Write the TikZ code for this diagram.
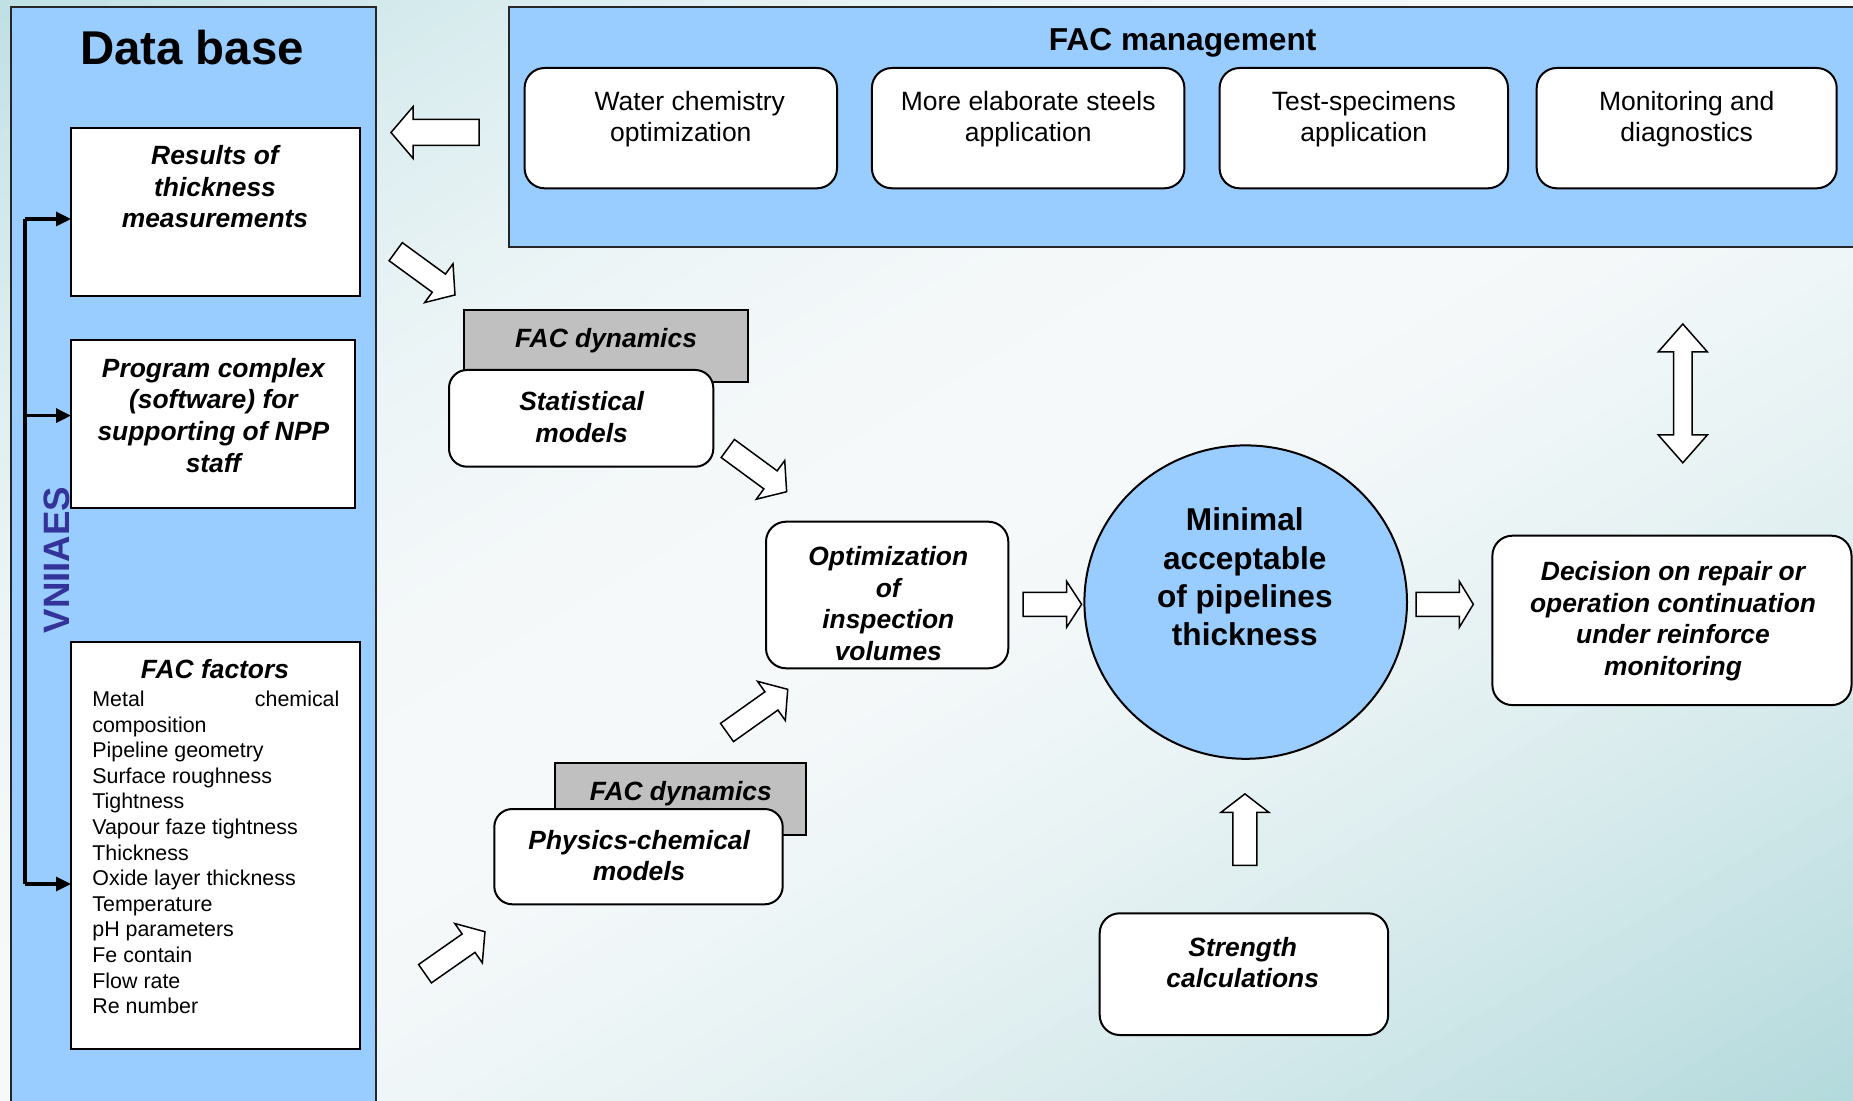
\documentclass[tikz,border=0pt]{standalone}
\usepackage{fontspec}
\setmainfont{Liberation Sans}
\usetikzlibrary{shapes.geometric,arrows.meta}
\definecolor{panelblue}{HTML}{99CCFF}
\definecolor{bgteal}{RGB}{190,224,228}
\definecolor{bgtealb}{RGB}{178,217,220}
\definecolor{bgwhite}{RGB}{246,249,250}
\definecolor{vnblue}{HTML}{333399}
\definecolor{boxgray}{HTML}{C0C0C0}
\newcommand{\blkarrow}[6]{%
  \draw[blk, shift={#1}, rotate=#2] (0,-#4) -- ({#3-#6},-#4) -- ({#3-#6},-#5) -- (#3,0)
    -- ({#3-#6},#5) -- ({#3-#6},#4) -- (0,#4) -- cycle;}
\begin{document}
\begin{tikzpicture}[x=0.5pt,y=-0.5pt,
  panel/.style={draw=black!85, line width=1pt, fill=panelblue, inner sep=0pt, outer sep=0pt, anchor=north west},
  sqbox/.style={draw=black, line width=1pt, fill=white, inner sep=0pt, outer sep=0pt, anchor=north west},
  rbox/.style={sqbox, rounded corners=9pt},
  graybox/.style={draw=black, line width=1pt, fill=boxgray, inner sep=0pt, outer sep=0pt, anchor=north west},
  blk/.style={draw=black, line width=0.75pt, fill=white, line join=miter},
  bi/.style={font=\fontsize{13.2pt}{15.85pt}\selectfont\bfseries\itshape, align=center, inner sep=0pt, anchor=north},
  reg/.style={font=\fontsize{13.25pt}{15.5pt}\selectfont, align=center, inner sep=0pt, anchor=north},
  busline/.style={line width=1.65pt},
  bus/.style={line width=1.65pt, -{Triangle[length=7.5pt,width=7pt]}}
]
\useasboundingbox (0,0) rectangle (1853,1101);
% background gradient
\begin{scope}
  \clip (0,0) rectangle (1853,1101);
  \foreach \k in {0,...,49}{
    \pgfmathsetmacro\ca{\k/50}
    \pgfmathsetmacro\cb{(\k+1)/50+0.004}
    \pgfmathsetmacro\t{(\k+0.5)/50}
    \pgfmathsetmacro\p{100*(1-\t)^2}
    \fill[bgteal!\p!bgwhite] ({\ca*1853},0) -- ({\cb*1853},0) -- (0,{\cb*1101}) -- (0,{\ca*1101}) -- cycle;
  }
  \foreach \k in {50,...,99}{
    \pgfmathsetmacro\ca{\k/50}
    \pgfmathsetmacro\cb{(\k+1)/50+0.004}
    \pgfmathsetmacro\t{(\k+0.5)/50}
    \pgfmathsetmacro\p{100*(\t-1)^1.5}
    \fill[bgtealb!\p!bgwhite] ({\ca*1853},0) -- ({\cb*1853},0) -- (0,{\cb*1101}) -- (0,{\ca*1101}) -- cycle;
  }
\end{scope}

% panels
\node[panel, minimum width=182.5pt, minimum height=551.5pt] (dbpanel) at (11,7) {};
\node[panel, minimum width=680.5pt, minimum height=120pt] (facpanel) at (509,7) {};

\node[anchor=base, inner sep=0pt, font=\fontsize{23.7pt}{28pt}\selectfont\bfseries] (dbtitle) at (192,65) {Data base};
\node[anchor=base, inner sep=0pt, font=\fontsize{15.85pt}{19pt}\selectfont\bfseries] (factitle) at (1182.7,50.5) {FAC management};
\node[rotate=90, inner sep=0pt, text=vnblue, font=\fontsize{18.35pt}{22pt}\selectfont\bfseries] (vniiaes) at (57,560) {VNIIAES};

% data base boxes
\node[sqbox, minimum width=144.5pt, minimum height=84pt] (results) at (71,128) {};
\node[sqbox, minimum width=142pt, minimum height=84pt] (program) at (71,340) {};
\node[sqbox, minimum width=144.5pt, minimum height=203.5pt] (factors) at (71,642) {};
\node[bi] (resultsT) at (215,145) {Results of\\thickness\\measurements};
\node[bi] (programT) at (213.4,357.5) {Program complex\\(software) for\\supporting of NPP\\staff};
\node[bi] (factorsT) at (215,658.5) {FAC factors};
\node[anchor=north west, inner sep=0pt, align=left, font=\fontsize{10.7pt}{12.8pt}\selectfont] (factorsL) at (92,690.5)
  {\hbox to 123.5pt{Metal\hfill chemical}\\composition\\Pipeline geometry\\Surface roughness\\Tightness\\Vapour faze tightness\\Thickness\\Oxide layer thickness\\Temperature\\pH parameters\\Fe contain\\Flow rate\\Re number};

% bus connectors
\coordinate (busA) at (25,219);
\coordinate (busB) at (25,415.6);
\coordinate (busC) at (25,884);
\draw[busline] (busC) -- (busA);
\draw[bus] (busA) -- (busA -| results.west);
\draw[bus] (busB) -- (busB -| program.west);
\draw[bus] (busC) -- (busC -| factors.west);

% FAC management boxes
\node[rbox, rounded corners=10pt, minimum width=156.2pt, minimum height=60.15pt] (water) at (524.6,68) {};
\node[rbox, rounded corners=10pt, minimum width=156.25pt, minimum height=60.15pt] (steels) at (871.9,68) {};
\node[rbox, rounded corners=10pt, minimum width=144.2pt, minimum height=60.15pt] (specimens) at (1219.6,68) {};
\node[rbox, rounded corners=10pt, minimum width=150pt, minimum height=60.15pt] (monitor) at (1536.7,68) {};
\node[reg] (waterT) at (680.8,90.5) {\hspace*{9pt}Water chemistry\\optimization};
\node[reg] (steelsT) at (1028.2,90.5) {More elaborate steels\\application};
\node[reg] (specimensT) at (1363.8,90.5) {Test-specimens\\application};
\node[reg] (monitorT) at (1686.7,90.5) {Monitoring and\\diagnostics};

% FAC dynamics
\node[graybox, minimum width=142.15pt, minimum height=36.15pt] (dyn1) at (464,310) {};
\node[bi] (dyn1T) at (606,327.5) {FAC dynamics};
\node[rbox, minimum width=132.15pt, minimum height=48.35pt] (stat) at (449,370) {};
\node[bi] (statT) at (581.7,391) {Statistical\\models};

\node[graybox, minimum width=125.5pt, minimum height=35.85pt] (dyn2) at (555,763.3) {};
\node[bi] (dyn2T) at (680.8,780.5) {FAC dynamics};
\node[rbox, minimum width=144.2pt, minimum height=47.65pt] (phys) at (494.3,809) {};
\node[bi] (physT) at (639.2,829.5) {Physics-chemical\\models};

% optimization
\node[rbox, rounded corners=10pt, minimum width=121.15pt, minimum height=73.3pt] (optim) at (766,521.7) {};
\node[bi] (optimT) at (888.3,546) {Optimization\\of\\inspection\\volumes};

% circle
\node[ellipse, draw=black, line width=1pt, fill=panelblue, inner sep=0pt, minimum width=161.3pt, minimum height=156.7pt] (minimal) at (1245.7,602.1) {};
\node[anchor=north, inner sep=0pt, align=center, font=\fontsize{15.8pt}{19.15pt}\selectfont\bfseries] (minimalT) at (1244.8,507.5) {Minimal\\acceptable\\of pipelines\\thickness};

% decision
\node[rbox, rounded corners=10pt, minimum width=179.55pt, minimum height=84.7pt] (decision) at (1492.4,535.7) {};
\node[bi] (decisionT) at (1673,561) {Decision on repair or\\operation continuation\\under reinforce\\monitoring};

% strength
\node[rbox, rounded corners=10pt, minimum width=144.25pt, minimum height=60.85pt] (strength) at (1099.7,913.3) {};
\node[bi] (strengthT) at (1242.7,936.5) {Strength\\calculations};

% block arrows
\blkarrow{(479,132.5)}{180}{88}{13}{25.8}{22}
\blkarrow{(395.7,251.7)}{-36.1}{73.4}{11.2}{24}{20}
\blkarrow{(727.8,448.5)}{-36.3}{73}{11.2}{24}{20}
\blkarrow{(727,732.5)}{35.4}{74.5}{11.2}{24}{20}
\blkarrow{(425,973.7)}{35}{73.2}{11.2}{24}{20}
\blkarrow{(1023,604.3)}{0}{58.6}{12}{23}{15}
\blkarrow{(1416,604.3)}{0}{57.3}{12}{23}{14}
\blkarrow{(1244.9,865.3)}{90}{71.4}{12}{24}{18.5}
\draw[blk] (1682.8,324) -- (1707.3,351.8) -- (1692,351.8) -- (1692,435) -- (1707.3,435) -- (1682.8,462.8)
  -- (1658.3,435) -- (1673.6,435) -- (1673.6,351.8) -- (1658.3,351.8) -- cycle;
\end{tikzpicture}
\end{document}
